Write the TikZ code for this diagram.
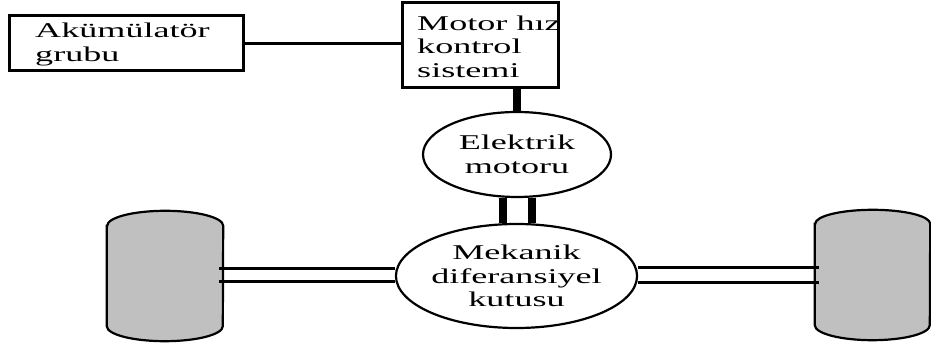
\documentclass[tikz,border=0pt]{standalone}
\usepackage{fontspec}
\usepackage{graphicx}
\setmainfont{Liberation Serif}
\usetikzlibrary{shapes.geometric,calc}
\definecolor{wheelgray}{RGB}{192,192,192}
\newcommand{\wide}[1]{\scalebox{1.72}[1]{#1}}
\begin{document}
\begin{tikzpicture}[x=1pt,y=1pt,
  txt/.style={font=\fontsize{21}{23.5}\selectfont},
  box/.style={draw,line width=3pt,rectangle,inner sep=0pt},
  ell/.style={draw,line width=2.2pt,ellipse,inner sep=0pt,align=center,txt},
  wire/.style={line width=2.2pt},
  shaft/.style={line width=7.5pt},
  axle/.style={line width=3pt},
  wheelbody/.style={draw,line width=2.2pt,fill=wheelgray},
  wheelslot/.style={rectangle,inner sep=0pt,minimum height=130pt}
]
\useasboundingbox (0,0) rectangle (931,347);

% boxes
\node[box,minimum width=234pt,minimum height=55pt] (akum) at (126,303.5) {};
\node[txt,align=left,anchor=west,inner sep=0pt] (akumtxt) at (35,302.5) {\wide{Akümülatör}\\\wide{grubu}};
\node[box,minimum width=156pt,minimum height=85pt] (motor) at (480,301.5) {};
\node[txt,align=left,anchor=west,inner sep=0pt] (motortxt) at (417,300.5) {\wide{Motor hız}\\\wide{kontrol}\\\wide{sistemi}};

% ellipses
\node[ell,minimum width=188pt,minimum height=85pt] (elek) at (517,192.5) {\wide{Elektrik}\\\wide{motoru}};
\node[ell,minimum width=228pt,minimum height=104pt] (mek) at (516.5,71) {\wide{Mekanik}\\\wide{diferansiyel}\\\wide{kutusu}};

% wheels
\node[wheelslot,minimum width=116pt] (lw) at (165,71) {};
\node[wheelslot,minimum width=115pt] (rw) at (872.5,72) {};
\draw[wheelbody] ([yshift=-15pt]lw.north west) -- ([yshift=15pt]lw.south west)
  arc[start angle=180,end angle=360,x radius=58pt,y radius=15pt]
  -- ([yshift=-15pt]lw.north east)
  arc[start angle=0,end angle=180,x radius=58pt,y radius=15pt] -- cycle;
\draw[wheelbody] ([yshift=-14pt]rw.north west) -- ([yshift=15pt]rw.south west)
  arc[start angle=180,end angle=360,x radius=57.5pt,y radius=15pt]
  -- ([yshift=-14pt]rw.north east)
  arc[start angle=0,end angle=180,x radius=57.5pt,y radius=14pt] -- cycle;

% connectors
\draw[wire] (akum.east) -- (akum.east -| motor.west);
\draw[shaft] (elek.north) -- (elek.north |- motor.south);
\coordinate (b1) at ($(elek.south)+(-14,0)$);
\coordinate (b2) at ($(elek.south)+(15,0)$);
\draw[shaft] (b1) -- (b1 |- mek.north);
\draw[shaft] (b2) -- (b2 |- mek.north);

\coordinate (la1) at ($(mek.west)+(0,7)$);
\coordinate (la2) at ($(mek.west)+(0,-6)$);
\coordinate (ra1) at ($(mek.east)+(0,8)$);
\coordinate (ra2) at ($(mek.east)+(0,-7)$);
\draw[axle] (la1) -- ([xshift=-4pt]la1 -| lw.east);
\draw[axle] (la2) -- ([xshift=-4pt]la2 -| lw.east);
\draw[axle] (ra1) -- ([xshift=4pt]ra1 -| rw.west);
\draw[axle] (ra2) -- ([xshift=4pt]ra2 -| rw.west);
\end{tikzpicture}
\end{document}
